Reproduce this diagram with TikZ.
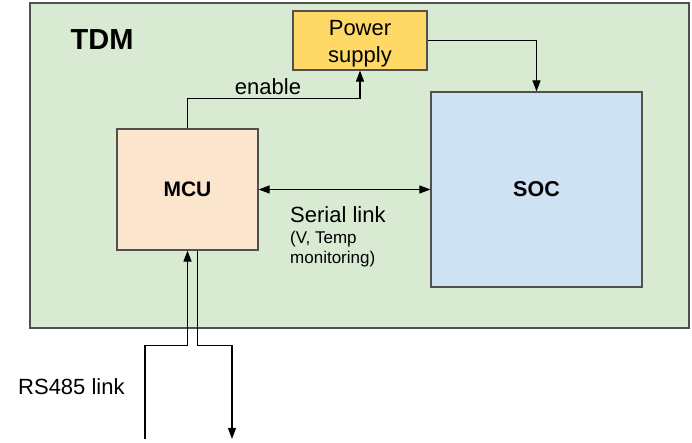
\documentclass[tikz,border=0pt]{standalone}
\usepackage{fontspec}
\setmainfont{Liberation Sans}
\usepackage{xcolor}
\usetikzlibrary{arrows.meta,positioning}

\definecolor{tdmgreen}{HTML}{D9EAD3}
\definecolor{psyellow}{HTML}{FFD966}
\definecolor{mcupeach}{HTML}{FCE5CD}
\definecolor{socblue}{HTML}{CFE2F3}
\definecolor{edge}{HTML}{505050}

\begin{document}
\begin{tikzpicture}[x=1pt, y=1pt,
	block/.style={draw=edge, line width=1.2pt, inner sep=0pt, align=center},
	arr/.style={-{Triangle[length=11pt,width=8pt]}, line width=1.1pt},
	lbl/.style={inner sep=0pt, font=\fontsize{22}{26}\selectfont}]
	\useasboundingbox (0,0) rectangle (692,443);
	% frame
	\node[block, fill=tdmgreen, minimum width=659pt, minimum height=325pt] (tdm) at (359.5,277.5) {};
	\node[lbl, font=\fontsize{29}{32}\bfseries] (tdmlbl) at (102,403) {TDM};
	% blocks
	\node[block, fill=psyellow, minimum width=134pt, minimum height=59pt] (ps) at (360,402.5) {};
	\node[lbl, align=center, font=\fontsize{22}{27}\selectfont] (pslbl) at ([yshift=-3pt]ps.center) {Power\\supply};
	\node[block, fill=socblue, minimum width=211pt, minimum height=195pt, font=\fontsize{21.5}{24}\bfseries] (soc) at (536.5,253.5) {SOC};
	\node[block, fill=mcupeach, minimum width=141pt, minimum height=121pt, font=\fontsize{21}{24}\bfseries] (mcu) at (187.5,253.5) {MCU};
	% links
	\draw[arr] (ps.east) -| (soc.north);
	\draw[arr] (mcu.north) -- ++(0,30) -| (ps.south);
	\node[lbl] (enable) at (268,356) {enable};
	\draw[arr, {Triangle[length=11pt,width=8pt]}-{Triangle[length=11pt,width=8pt]}] (mcu.east) -- (soc.west);
	\node[lbl, anchor=west] (serial) at (290,228) {Serial link};
	\node[lbl, anchor=west, align=left, font=\fontsize{17}{20}\selectfont] (mon) at (290,194) {(V, Temp\\monitoring)};
	% RS485
	\coordinate (rsin) at (145,4);
	\coordinate (rsout) at (232,4);
	\draw[arr] (rsin) |- ([yshift=-95pt]mcu.south) -- (mcu.south);
	\draw[arr] ([xshift=10pt]mcu.south) -- ++(0,-95) -| (rsout);
	\node[lbl, anchor=west] (rs) at (18,56) {RS485 link};
\end{tikzpicture}
\end{document}
